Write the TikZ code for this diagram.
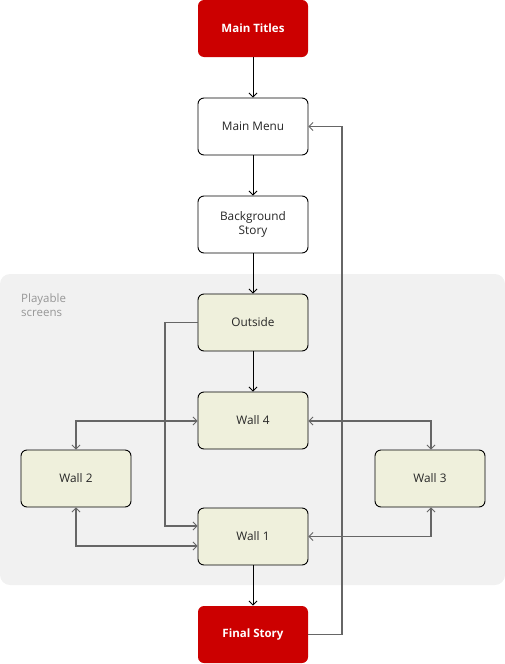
\documentclass[tikz,border=0pt]{standalone}
\usepackage{fontspec}
\setmainfont{Open Sans}
\usetikzlibrary{arrows.meta}
\definecolor{redbox}{RGB}{204,0,0}
\definecolor{panel}{RGB}{241,241,241}
\definecolor{wallfill}{RGB}{239,240,220}
\definecolor{conn}{RGB}{102,102,102}
\definecolor{lbl}{RGB}{150,150,150}
\tikzset{
  box/.style={draw=black, line width=0.9pt, rounded corners=6pt, minimum width=110pt, minimum height=57pt, inner sep=0pt, align=center, font=\fontsize{11.8}{14.5}\selectfont, text=black!85},
  redb/.style={box, draw=none, fill=redbox, text=white, font=\fontsize{11.5}{14.5}\selectfont\bfseries},
  whiteb/.style={box, fill=white},
  wallb/.style={box, fill=wallfill},
  tip/.tip={Straight Barb[length=4pt,width=8pt,line width=0.8pt]},
  blk/.style={draw=black, line width=0.9pt, -tip},
  gry/.style={draw=conn, line width=1.5pt},
}
\begin{document}
\begin{tikzpicture}[x=1pt,y=-1pt]
\useasboundingbox (0,0) rectangle (505,664);
\fill[panel, rounded corners=10pt] (0,274) rectangle (505,585);
\node[anchor=north west, align=left, text=lbl, font=\fontsize{11.5}{14}\selectfont, inner sep=0pt] (plbl) at (21,294) {Playable\\screens};

\node[redb] (mt) at (253,28.5) {Main Titles};
\node[whiteb] (mm) at (253,126.5) {Main Menu};
\node[whiteb] (bs) at (253,224.5) {Background\\Story};
\node[wallb] (out) at (253,322.5) {Outside};
\node[wallb] (w4) at (253,420.5) {Wall 4};
\node[wallb] (w2) at (76,478.5) {Wall 2};
\node[wallb] (w3) at (430,478.5) {Wall 3};
\node[wallb] (w1) at (253,536.5) {Wall 1};
\node[redb] (fs) at (253,634.5) {Final Story};

\coordinate (c1) at (342,634.5);
\coordinate (c2) at (342,126.5);
\coordinate (o1) at (165,322.5);
\coordinate (o2) at (165,526);
\coordinate (a1) at (76,421);
\coordinate (a2) at (76,546);
\coordinate (b1) at (431,421);
\coordinate (b2) at (431,536.5);

\draw[gry, -tip] (fs.east) -- (c1) -- (c2) -- (mm.east);
\draw[gry, -tip] (out.west) -- (o1) -- (o2) -- (w1.west |- o2);
\draw[gry, tip-tip] (w4.west |- a1) -- (a1) -- (w2.north);
\draw[gry, tip-tip] (w2.south) -- (a2) -- (w1.west |- a2);
\draw[gry, tip-tip] (w4.east |- b1) -- (b1) -- (w3.north -| b1);
\draw[gry, tip-tip] (w1.east |- b2) -- (b2) -- (w3.south -| b2);

\draw[blk] (mt) -- (mm);
\draw[blk] (mm) -- (bs);
\draw[blk] (bs) -- (out);
\draw[blk] (out) -- (w4);
\draw[blk] (w1) -- (fs);
\end{tikzpicture}
\end{document}
